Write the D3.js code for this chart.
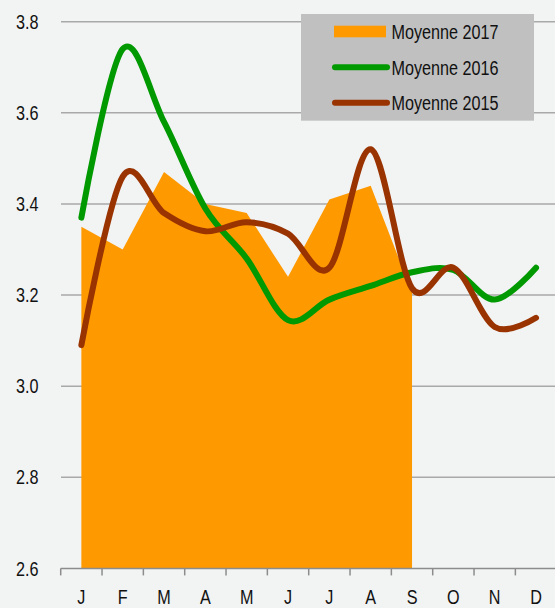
<!DOCTYPE html>
<html>
<head>
<meta charset="utf-8">
<script src="https://cdn.jsdelivr.net/npm/d3@7/dist/d3.min.js"></script>
<style>
  html, body { margin: 0; padding: 0; background: #f2f3f3; }
  svg { display: block; }
  text { font-family: "Liberation Sans", Arimo, sans-serif; fill: #111; }
</style>
</head>
<body>
<svg id="chart" width="555" height="608"></svg>
<script>
// Monthly averages
const months = ["J", "F", "M", "A", "M", "J", "J", "A", "S", "O", "N", "D"];
const avg2017 = [3.35, 3.30, 3.47, 3.40, 3.38, 3.24, 3.41, 3.44, 3.205];
const avg2016 = [3.37, 3.74, 3.58, 3.39, 3.28, 3.145, 3.19, 3.22, 3.25, 3.255, 3.19, 3.26];
const avg2015 = [3.09, 3.46, 3.38, 3.34, 3.36, 3.335, 3.26, 3.52, 3.215, 3.26, 3.13, 3.15];
const yTicks = [2.6, 2.8, 3.0, 3.2, 3.4, 3.6, 3.8];
const seriesNames = ["Moyenne 2017", "Moyenne 2016", "Moyenne 2015"];
const colors = ["#ff9900", "#009900", "#993300"];

const W = 555, H = 608;
const plotLeft = 60.7, plotRight = 556.7, plotTop = 21.7, plotBottom = 568.4;
const narrow = 0.81; // horizontal squeeze giving a condensed face

const svg = d3.select("#chart");

const x = d3.scaleBand().domain(d3.range(12)).range([plotLeft, plotRight]).padding(0);
const y = d3.scaleLinear().domain([2.6, 3.8]).range([plotBottom, plotTop]);
const cx = i => x(i) + x.bandwidth() / 2;

// Horizontal gridlines
svg.append("g")
  .selectAll("line")
  .data(yTicks.filter(t => t > 2.6))
  .join("line")
  .attr("x1", 61).attr("x2", W)
  .attr("y1", d => y(d)).attr("y2", d => y(d))
  .attr("stroke", "#a9a9a9").attr("stroke-width", 1.5);

// Y tick labels
svg.append("g")
  .selectAll("text")
  .data(yTicks)
  .join("text")
  .attr("transform", d => `translate(38.5,${y(d)}) scale(${narrow},1)`)
  .attr("dy", "0.36em")
  .attr("text-anchor", "end")
  .attr("font-size", 20)
  .text(d => d.toFixed(1));

// 2017 area
const area = d3.area()
  .x((d, i) => cx(i))
  .y0(y(2.6))
  .y1(d => y(d))
  .curve(d3.curveLinear);
svg.append("path")
  .datum(avg2017)
  .attr("d", area)
  .attr("fill", colors[0]);

// X axis: baseline, ticks at band edges, month initials centred in bands
const gx = svg.append("g").attr("transform", `translate(0,${plotBottom})`);
gx.append("line")
  .attr("x1", plotLeft).attr("x2", W)
  .attr("stroke", "#8c8c8c").attr("stroke-width", 1.5);
gx.selectAll("line.tick")
  .data(d3.range(12))
  .join("line")
  .attr("class", "tick")
  .attr("x1", i => x(i)).attr("x2", i => x(i))
  .attr("y1", 0).attr("y2", 7)
  .attr("stroke", "#8c8c8c").attr("stroke-width", 1.5);
gx.selectAll("text")
  .data(months)
  .join("text")
  .attr("transform", (d, i) => `translate(${cx(i)},35.5) scale(${narrow - 0.04},1)`)
  .attr("text-anchor", "middle")
  .attr("font-size", 21)
  .text(d => d);

// Smoothed lines
const line = d3.line()
  .x((d, i) => cx(i))
  .y(d => y(d))
  .curve(d3.curveCardinal.tension(0));

[[avg2016, colors[1]], [avg2015, colors[2]]].forEach(([vals, c]) => {
  svg.append("path")
    .datum(vals)
    .attr("d", line)
    .attr("fill", "none")
    .attr("stroke", c)
    .attr("stroke-width", 6)
    .attr("stroke-linecap", "round")
    .attr("stroke-linejoin", "round");
});

// Legend
const lg = svg.append("g");
lg.append("rect")
  .attr("x", 301).attr("y", 14)
  .attr("width", 233).attr("height", 106.7)
  .attr("fill", "#c0c0c0");
const rowsY = [31.5, 67.3, 102.7];
lg.append("rect")
  .attr("x", 334).attr("y", 25.7)
  .attr("width", 52).attr("height", 11.6)
  .attr("fill", colors[0]);
[1, 2].forEach(k => {
  lg.append("line")
    .attr("x1", 335).attr("x2", 387)
    .attr("y1", rowsY[k]).attr("y2", rowsY[k])
    .attr("stroke", colors[k]).attr("stroke-width", 6)
    .attr("stroke-linecap", "round");
});
lg.selectAll("text")
  .data(seriesNames)
  .join("text")
  .attr("transform", (d, i) => `translate(391.5,${rowsY[i]}) scale(${narrow},1)`)
  .attr("dy", "0.36em")
  .attr("font-size", 20)
  .text(d => d);
</script>
</body>
</html>
